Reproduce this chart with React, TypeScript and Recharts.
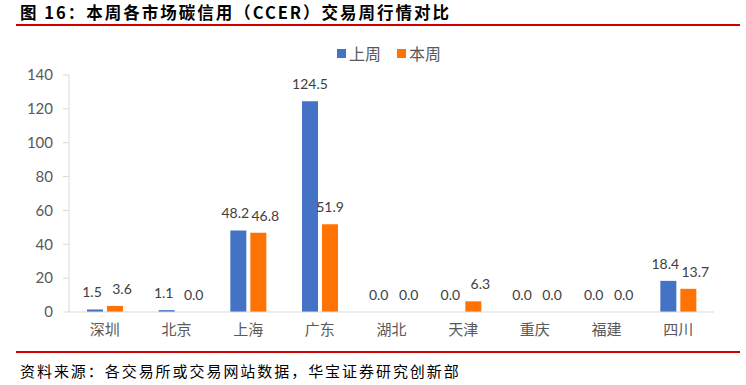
import React from "react";
import { BarChart, Bar, XAxis, YAxis, LabelList } from "recharts";

const categories = ["深圳", "北京", "上海", "广东", "湖北", "天津", "重庆", "福建", "四川"];
const lastWeek = [1.5, 1.1, 48.2, 124.5, 0.0, 0.0, 0.0, 0.0, 18.4];
const thisWeek = [3.6, 0.0, 46.8, 51.9, 0.0, 6.3, 0.0, 0.0, 13.7];
const yTicks = [0, 20, 40, 60, 80, 100, 120, 140];
const seriesNames = ["上周", "本周"];

const data = categories.map((name, i) => ({ name, last: lastWeek[i], cur: thisWeek[i] }));

const BLUE = "#4472C4";
const ORANGE = "#FF7304";
const GRAY = "#595959";
const FONT = "Lato, 'Noto Sans CJK SC', sans-serif";
const CJK = "'Noto Sans CJK SC', sans-serif";

const PX_PER_UNIT = 237 / 140;

const makeLabel = (isCur: boolean) => (props: any) => {
  const { x, y, width, height, index, value } = props;
  const i = index as number;
  const close = Math.abs(lastWeek[i] - thisWeek[i]) * PX_PER_UNIT < 14;
  const dx = close ? (isCur ? 7 : -3) : 0;
  const top = Math.min(Number(y), Number(y) + Number(height || 0));
  return (
    <text x={Number(x) + Number(width) / 2 + dx} y={top - 12} textAnchor="middle" fill="#404040" fontSize={14} fontFamily={FONT}>
      {Number(value).toFixed(1)}
    </text>
  );
};

export default function App() {
  return (
    <div style={{ position: "absolute", left: 0, top: 0, width: 746, height: 385, background: "#fff", overflow: "hidden" }}>
      <div style={{ position: "absolute", left: 20, top: 2, fontFamily: CJK, fontWeight: 700, fontSize: 16.5, letterSpacing: 2.0, color: "#000", whiteSpace: "nowrap", lineHeight: "20px" }}>
        图 16：本周各市场碳信用（CCER）交易周行情对比
      </div>
      <div style={{ position: "absolute", left: 16, top: 24, width: 724, height: 2, background: "#D00000" }} />
      <div style={{ position: "absolute", left: 0, top: 43, width: 778, display: "flex", justifyContent: "center", fontFamily: CJK, fontSize: 16, color: GRAY, lineHeight: "20px" }}>
        {seriesNames.map((n, k) => (
          <div key={n} style={{ display: "flex", alignItems: "center", marginRight: k === 0 ? 16 : 0 }}>
            <span style={{ display: "inline-block", width: 9, height: 9, background: k === 0 ? BLUE : ORANGE, marginRight: 3 }} />
            <span>{n}</span>
          </div>
        ))}
      </div>
      <BarChart width={746} height={385} data={data} margin={{ top: 75, right: 32, left: 29, bottom: 43 }} barSize={16} barGap={4}>
        <XAxis dataKey="name" axisLine={{ stroke: "#D9D9D9" }} tickLine={false} tickSize={0} tickMargin={12} height={30} tick={{ fill: GRAY, fontSize: 15, fontFamily: CJK }} interval={0} />
        <YAxis domain={[0, 140]} ticks={yTicks} width={40} axisLine={{ stroke: "#D9D9D9" }} tickLine={{ stroke: "#D9D9D9" }} tickSize={6} tickMargin={10} tick={{ fill: GRAY, fontSize: 15, fontFamily: FONT }} interval={0} />
        <Bar dataKey="last" name={seriesNames[0]} fill={BLUE} minPointSize={0.01} isAnimationActive={false}>
          <LabelList dataKey="last" content={makeLabel(false)} />
        </Bar>
        <Bar dataKey="cur" name={seriesNames[1]} fill={ORANGE} minPointSize={0.01} isAnimationActive={false}>
          <LabelList dataKey="cur" content={makeLabel(true)} />
        </Bar>
      </BarChart>
      <div style={{ position: "absolute", left: 16, top: 351, width: 724, height: 2, background: "#D00000" }} />
      <div style={{ position: "absolute", left: 20, top: 361, fontFamily: CJK, fontSize: 15, letterSpacing: 1.95, color: "#000", whiteSpace: "nowrap", lineHeight: "20px" }}>
        资料来源：各交易所或交易网站数据，华宝证券研究创新部
      </div>
    </div>
  );
}
